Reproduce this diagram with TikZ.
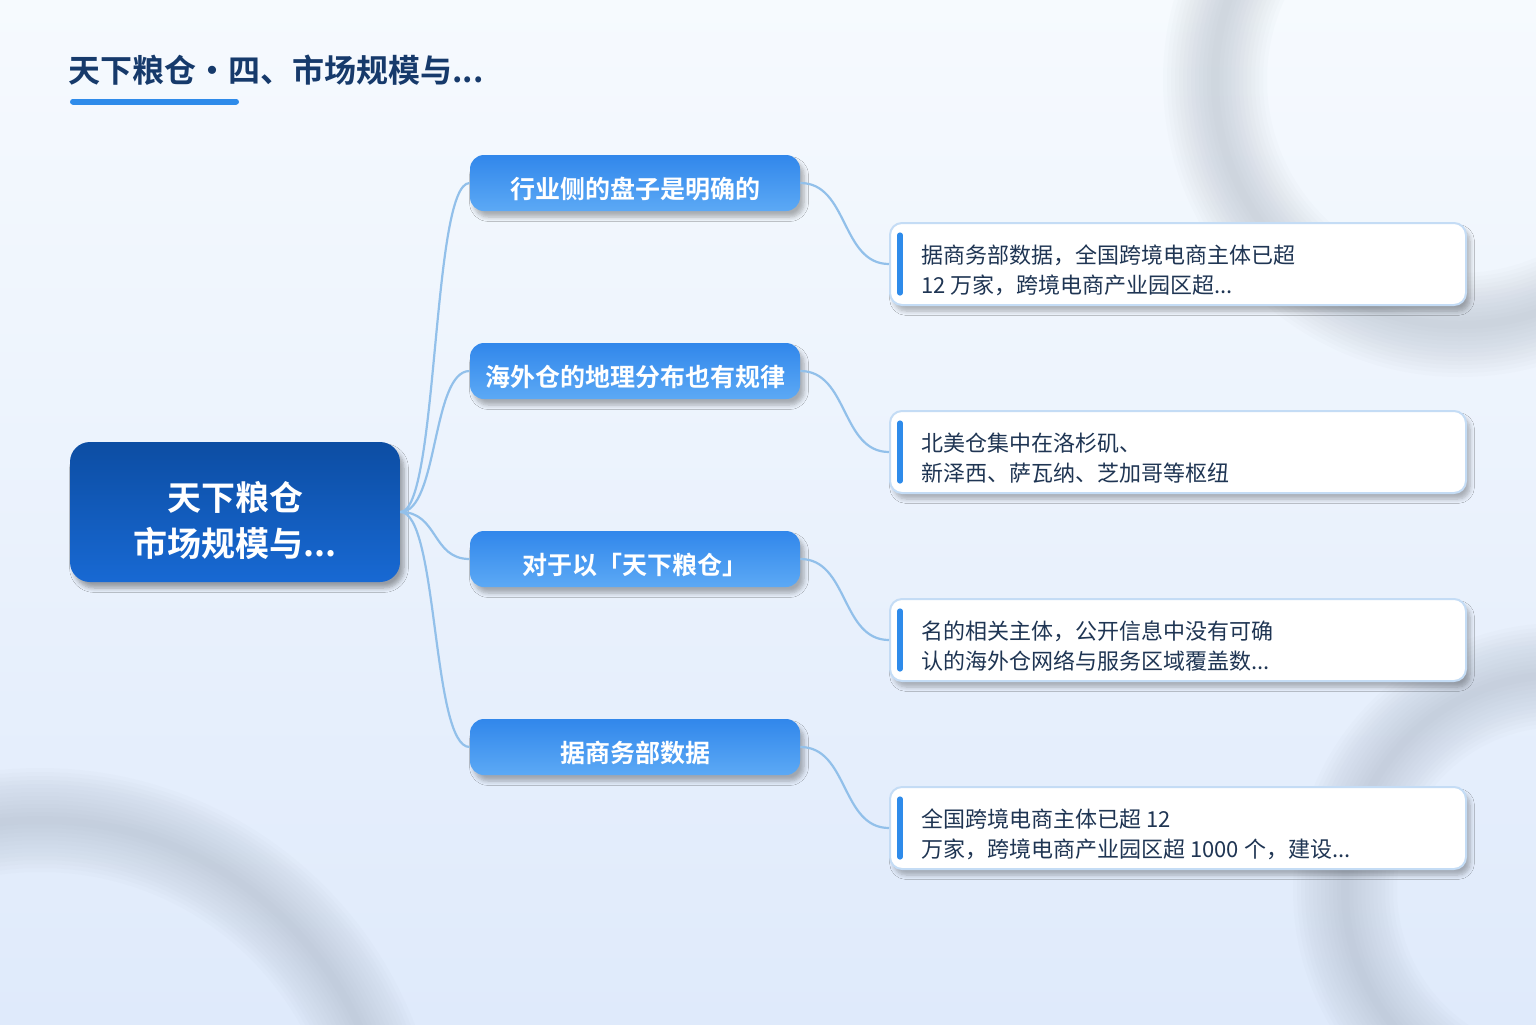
\documentclass[tikz,border=0pt]{standalone}
\usepackage{fontspec}
\setmainfont{Noto Sans CJK SC}[BoldFont={Noto Sans CJK SC Bold}]
\usetikzlibrary{shadows.blur}
\definecolor{bgtop}{HTML}{F6FAFE}
\definecolor{bgbot}{HTML}{DFEAFB}
\definecolor{ringc}{HTML}{9EA9B8}
\definecolor{titlec}{HTML}{163A6B}
\definecolor{accentc}{HTML}{2E8BEA}
\definecolor{rootA}{HTML}{0C4DA3}
\definecolor{rootB}{HTML}{1869D3}
\definecolor{brA}{HTML}{3187EB}
\definecolor{brB}{HTML}{5CA9F5}
\definecolor{connc}{HTML}{92C0EA}
\definecolor{leafborder}{HTML}{C4DCF5}
\definecolor{leaftextc}{HTML}{1F3553}
\newcommand{\lowr}[2]{\raisebox{-#1}[\height][\depth]{#2}}
\begin{document}
\begin{tikzpicture}[x=0.5pt,y=-0.5pt,
  ring/.style={draw=ringc, opacity=0.035},
  rootbox/.style={minimum width=165pt, minimum height=70pt, rounded corners=10pt,
    top color=rootA, bottom color=rootB, text=white, align=center,
    font=\fontsize{17}{23}\selectfont\bfseries,
    blur shadow={shadow xshift=2pt, shadow yshift=-3pt, shadow opacity=35, shadow blur steps=6}},
  brbox/.style={minimum width=165pt, minimum height=28pt, rounded corners=7pt,
    top color=brA, bottom color=brB, text=white, inner sep=0pt,
    font=\fontsize{12.5}{14}\selectfont\bfseries,
    blur shadow={shadow xshift=2pt, shadow yshift=-3pt, shadow opacity=30, shadow blur steps=6}},
  leafbox/.style={minimum width=288pt, minimum height=41pt, rounded corners=6pt,
    fill=white, draw=leafborder, line width=1pt,
    blur shadow={shadow xshift=2pt, shadow yshift=-3pt, shadow opacity=28, shadow blur steps=6}},
  leaftext/.style={anchor=west, inner sep=0pt, align=left, text=leaftextc,
    font=\fontsize{11}{15}\selectfont},
  bar/.style={draw=accentc, line width=2.6pt, line cap=round},
  conn/.style={draw=connc, line width=1.1pt}
]
\useasboundingbox (0,0) rectangle (1536,1024);
\shade[top color=bgtop, bottom color=bgbot] (0,0) rectangle (1536,1024);
\begin{scope}
\clip (0,0) rectangle (1536,1024);
\foreach \w in {104,96,88,80,72,64,56,48,40,32,24,16,8} {
  \draw[ring, line width=\w*0.5pt] (1460,80) circle[radius=245];
  \draw[ring, line width=\w*0.5pt] (40,1170) circle[radius=350];
  \draw[ring, line width=\w*0.5pt] (1560,890) circle[radius=215];
}
\end{scope}

% title
\node[anchor=west, inner sep=0pt, text=titlec, font=\fontsize{16}{18}\selectfont\bfseries] (title) at (68,70) {天下粮仓・四、市场规模与...};
\draw[draw=accentc, line width=3pt, line cap=round] (73,101.5) -- (236,101.5);

% root
\node[rootbox] (root) at (235,512) {\lowr{6pt}{\begin{tabular}{@{}c@{}}天下粮仓\\市场规模与...\end{tabular}}};

% branches
\node[brbox] (b1) at (635,183) {\lowr{2.8pt}{行业侧的盘子是明确的}};
\node[brbox] (b2) at (635,371) {\lowr{2.8pt}{海外仓的地理分布也有规律}};
\node[brbox] (b3) at (635,559) {\lowr{2.8pt}{对于以「天下粮仓」}};
\node[brbox] (b4) at (635,747) {\lowr{2.8pt}{据商务部数据}};

% leaves
\node[leafbox] (l1) at (1178,264) {};
\node[leafbox] (l2) at (1178,452) {};
\node[leafbox] (l3) at (1178,640) {};
\node[leafbox] (l4) at (1178,828) {};
\foreach \n in {l1,l2,l3,l4} {
  \draw[bar] ([xshift=5.5pt,yshift=-6.5pt]\n.north west) -- ([xshift=5.5pt,yshift=6.5pt]\n.south west);
}
\node[leaftext] (t1) at (921,270) {据商务部数据，全国跨境电商主体已超\\12 万家，跨境电商产业园区超...};
\node[leaftext] (t2) at (921,458) {北美仓集中在洛杉矶、\\新泽西、萨瓦纳、芝加哥等枢纽};
\node[leaftext] (t3) at (921,646) {名的相关主体，公开信息中没有可确\\认的海外仓网络与服务区域覆盖数...};
\node[leaftext] (t4) at (921,834) {全国跨境电商主体已超 12\\万家，跨境电商产业园区超 1000 个，建设...};

% connectors
\foreach \b in {b1,b2,b3,b4} {
  \draw[conn] (root.east) .. controls +(38,0) and +(-38,0) .. (\b.west);
}
\draw[conn] (b1.east) .. controls +(48,0) and +(-48,0) .. (l1.west);
\draw[conn] (b2.east) .. controls +(48,0) and +(-48,0) .. (l2.west);
\draw[conn] (b3.east) .. controls +(48,0) and +(-48,0) .. (l3.west);
\draw[conn] (b4.east) .. controls +(48,0) and +(-48,0) .. (l4.west);
\end{tikzpicture}
\end{document}
